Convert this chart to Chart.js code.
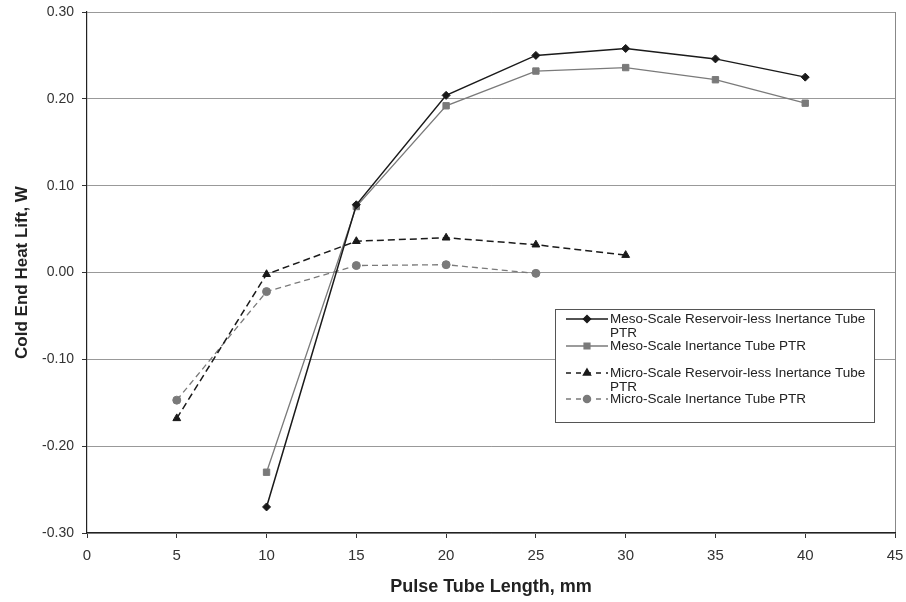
<!DOCTYPE html>
<html>
<head>
<meta charset="utf-8">
<script src="https://cdn.jsdelivr.net/npm/chart.js@4/dist/chart.umd.min.js"></script>
<style>
html,body{margin:0;padding:0;background:#fff;}
#wrap{width:906px;height:602px;position:relative;}
</style>
</head>
<body>
<div id="wrap"><canvas id="c" width="906" height="602"></canvas></div>
<script>
const xTicks = [0,5,10,15,20,25,30,35,40,45];
const yTicks = [-0.30,-0.20,-0.10,0.00,0.10,0.20,0.30];

const mesoX = [10,15,20,25,30,35,40];
const mesoResLess = [-0.270,0.078,0.204,0.250,0.258,0.246,0.225];
const mesoInert   = [-0.230,0.076,0.192,0.232,0.236,0.222,0.195];

const microX = [5,10,15,20,25,30];
const microResLess = [-0.168,-0.002,0.036,0.040,0.032,0.020];
const microInertX = [5,10,15,20,25];
const microInert   = [-0.147,-0.022,0.008,0.009,-0.001];

const seriesNames = [
  ["Meso-Scale Reservoir-less Inertance Tube","PTR"],
  ["Meso-Scale Inertance Tube PTR"],
  ["Micro-Scale Reservoir-less Inertance Tube","PTR"],
  ["Micro-Scale Inertance Tube PTR"]
];

function pts(xs, ys){ return xs.map((x,i)=>({x:x,y:ys[i]})); }

const styles = [
  {color:'#1a1a1a', dash:[], point:'rectRot', r:4, w:1.5},
  {color:'#7a7a7a', dash:[], point:'rect', r:4.5, w:1.3},
  {color:'#1a1a1a', dash:[7,4], point:'triangle', r:4.5, w:1.5},
  {color:'#7a7a7a', dash:[6,4], point:'circle', r:4, w:1.3}
];

const datasets = [
  pts(mesoX, mesoResLess), pts(mesoX, mesoInert),
  pts(microX, microResLess), pts(microInertX, microInert)
].map((d,i)=>({
  label: seriesNames[i].join(' '),
  data: d,
  borderColor: styles[i].color,
  backgroundColor: styles[i].color,
  borderWidth: styles[i].w,
  borderDash: styles[i].dash,
  pointStyle: styles[i].point,
  pointRadius: styles[i].r,
  pointBorderWidth: 1,
  pointBorderColor: styles[i].color,
  pointBackgroundColor: styles[i].color,
  tension: 0,
  fill: false
}));

const legendPlugin = {
  id:'customLegend',
  afterDraw(chart){
    const ctx = chart.ctx;
    const bx = 555, by = 309, bw = 319, bh = 113;
    ctx.save();
    ctx.fillStyle = '#fff';
    ctx.fillRect(bx, by, bw, bh);
    ctx.strokeStyle = '#555';
    ctx.lineWidth = 1;
    ctx.strokeRect(bx+0.5, by+0.5, bw, bh);
    const rowsY = [319, 346, 373, 399];
    ctx.font = '13.5px "Liberation Sans", Arial, sans-serif';
    ctx.textBaseline = 'middle';
    rowsY.forEach((y,i)=>{
      const s = styles[i];
      ctx.strokeStyle = s.color;
      ctx.lineWidth = 1.5;
      ctx.setLineDash(s.dash.length ? [5,5] : []);
      ctx.beginPath();
      ctx.moveTo(566, y); ctx.lineTo(608, y);
      ctx.stroke();
      ctx.setLineDash([]);
      ctx.strokeStyle = s.color;
      ctx.fillStyle = s.color;
      Chart.helpers.drawPoint(ctx, {pointStyle:s.point, radius:s.r-0.5, borderWidth:1}, 587, y);
      ctx.fillStyle = '#222';
      seriesNames[i].forEach((t,k)=>{
        ctx.fillText(t, 610, y + k*14);
      });
    });
    ctx.restore();
  }
};

new Chart(document.getElementById('c'), {
  type:'line',
  data:{datasets:datasets},
  plugins:[legendPlugin],
  options:{
    responsive:false,
    animation:false,
    layout:{padding:{left:0, top:12, right:11, bottom:0}},
    plugins:{legend:{display:false}, tooltip:{enabled:false}},
    scales:{
      x:{
        type:'linear', min:0, max:45,
        afterBuildTicks(scale){ scale.ticks = xTicks.map(v=>({value:v})); },
        afterFit(scale){ scale.height = 69; scale.paddingLeft = 0; scale.paddingRight = 0; },
        ticks:{
          color:'#333', padding:9,
          font:{family:'"Liberation Sans", Arial, sans-serif', size:15},
          callback:v=>String(v), maxRotation:0
        },
        grid:{
          drawOnChartArea:true,
          color:ctx=> (ctx.tick && ctx.tick.value===45) ? '#888' : 'rgba(0,0,0,0)',
          tickColor:'#333', tickLength:5
        },
        border:{color:'#222', width:1.2},
        title:{display:true, text:'Pulse Tube Length, mm', color:'#222',
          font:{family:'"Liberation Sans", Arial, sans-serif', size:18, weight:'bold'}, padding:{top:4}}
      },
      y:{
        min:-0.30, max:0.30,
        afterBuildTicks(scale){ scale.ticks = yTicks.map(v=>({value:v})); },
        afterFit(scale){ scale.width = 87; scale.paddingTop = 0; scale.paddingBottom = 0; },
        ticks:{
          color:'#333', padding:8,
          font:{family:'"Liberation Sans", Arial, sans-serif', size:14},
          callback:v=>Number(v).toFixed(2)
        },
        grid:{color:'#999', lineWidth:1, tickColor:'#333', tickLength:5},
        border:{color:'#222', width:1.2},
        title:{display:true, text:'Cold End Heat Lift, W', color:'#222',
          font:{family:'"Liberation Sans", Arial, sans-serif', size:17, weight:'bold'}, padding:{top:12, bottom:4}}
      }
    }
  }
});
</script>
</body>
</html>
